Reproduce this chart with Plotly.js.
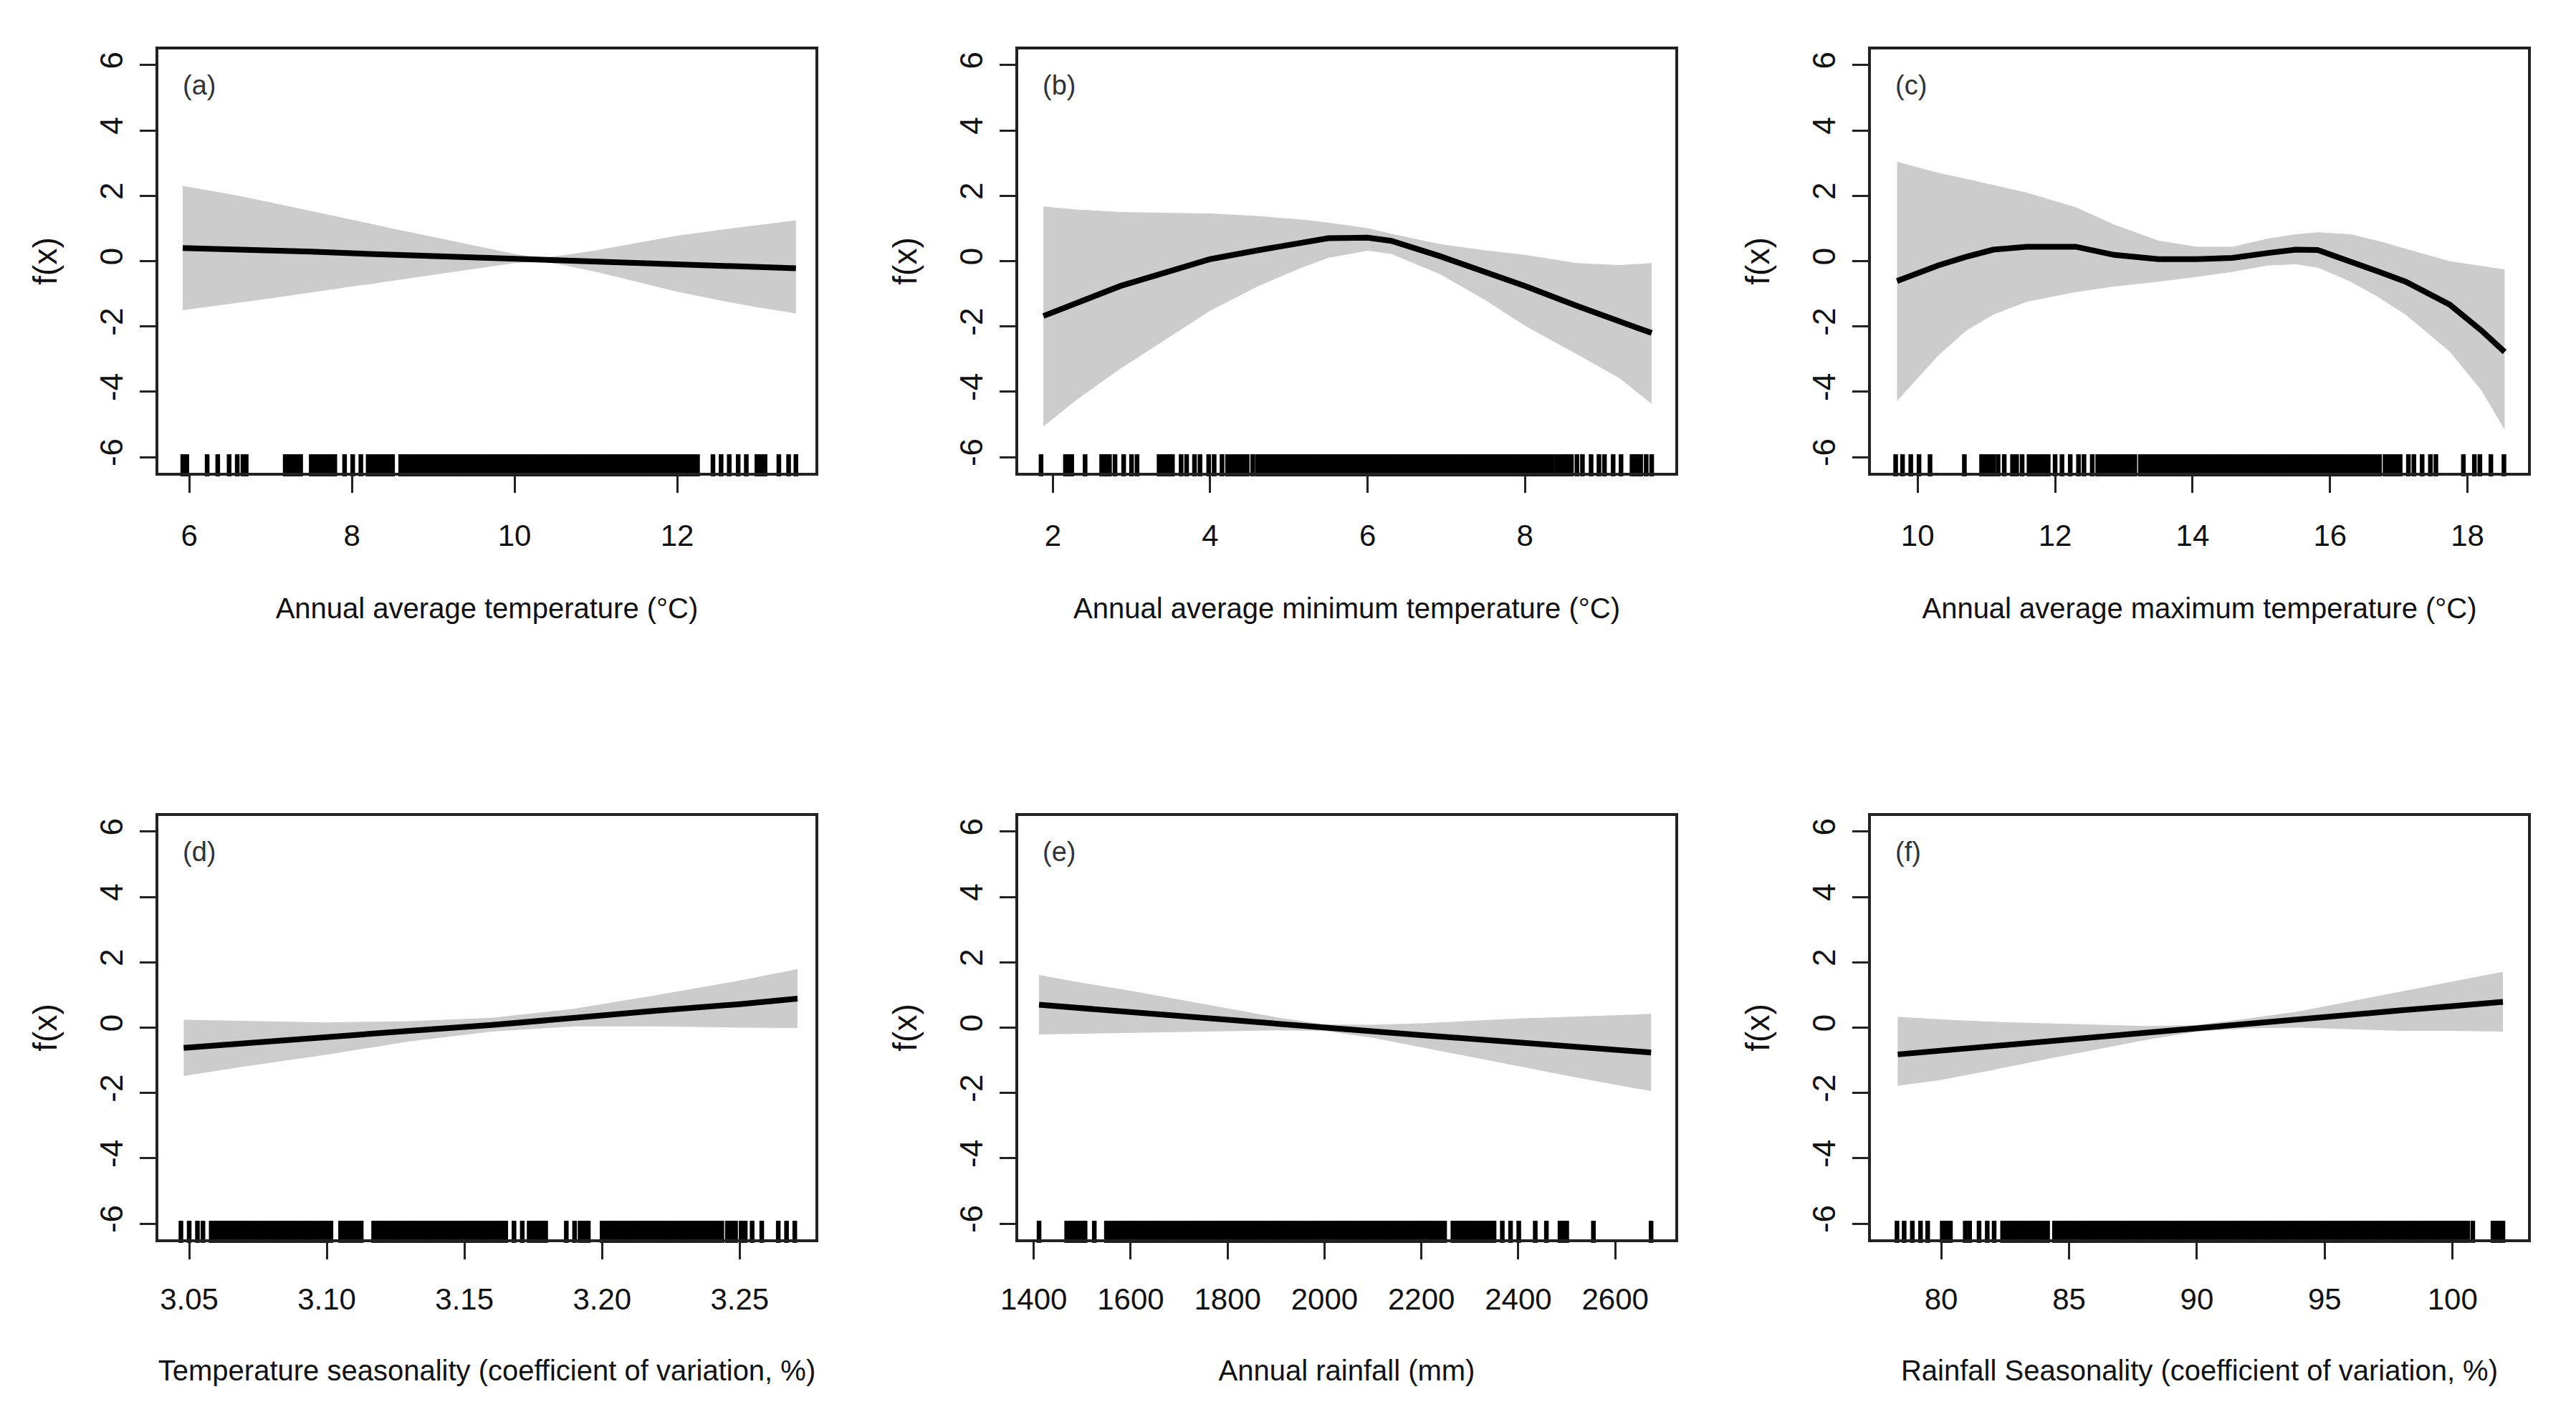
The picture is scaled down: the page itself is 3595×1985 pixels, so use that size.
<!DOCTYPE html>
<html>
<head>
<meta charset="utf-8">
<script src="https://cdn.plot.ly/plotly-3.0.1.min.js"></script>
<style>html,body{margin:0;padding:0;background:#fff;}#chart{width:3595px;height:1985px;}</style>
</head>
<body>
<div id="chart"></div>
<script>
// ---------------- DATA ----------------
const panelLabels = ["(a)", "(b)", "(c)", "(d)", "(e)", "(f)"];
const xTitles = [
  "Annual average temperature (°C)",
  "Annual average minimum temperature (°C)",
  "Annual average maximum temperature (°C)",
  "Temperature seasonality (coefficient of variation, %)",
  "Annual rainfall (mm)",
  "Rainfall Seasonality (coefficient of variation, %)"
];
const yTitle = "f(x)";
const yTickVals = [-6, -4, -2, 0, 2, 4, 6];
const yTickText = ["-6", "-4", "-2", "0", "2", "4", "6"];

// (a) annual average temperature
const aX   = [5.92, 6.5, 7, 7.5, 8, 8.5, 9, 9.5, 10, 10.3, 10.6, 11, 11.5, 12, 12.5, 13, 13.46];
const aFit = [0.40, 0.37, 0.33, 0.29, 0.24, 0.20, 0.16, 0.12, 0.08, 0.05, 0.03, 0.00, -0.04, -0.08, -0.12, -0.16, -0.22];
const aUp  = [2.30, 2.05, 1.80, 1.53, 1.27, 1.00, 0.74, 0.48, 0.22, 0.10, 0.18, 0.33, 0.55, 0.78, 0.95, 1.10, 1.25];
const aLo  = [-1.50, -1.31, -1.14, -0.96, -0.79, -0.60, -0.42, -0.24, -0.06, 0.00, -0.12, -0.33, -0.63, -0.94, -1.19, -1.42, -1.60];
const aRug = [5.92, 5.97, 6.22, 6.35, 6.49, 6.59, 6.66, 6.70, 7.18, 7.23, 7.28, 7.33, 7.37,
  7.50, 7.55, 7.60, 7.65, 7.70, 7.75, 7.79, 7.91, 8.01, 8.11,
  8.20, 8.25, 8.30, 8.35, 8.40, 8.45, 8.50,
  8.60, 8.65, 8.70, 8.75, 8.80, 8.85, 8.90, 8.95, 9.00, 9.05, 9.10, 9.15, 9.20, 9.25, 9.30, 9.35, 9.40, 9.45, 9.50, 9.55,
  9.60, 9.65, 9.70, 9.75, 9.80, 9.85, 9.90, 9.95, 10.00, 10.05, 10.10, 10.15, 10.20, 10.25, 10.30, 10.35, 10.40, 10.45,
  10.50, 10.55, 10.60, 10.65, 10.70, 10.75, 10.80, 10.85, 10.90, 10.95, 11.00, 11.05, 11.10, 11.15, 11.20, 11.25, 11.30,
  11.35, 11.40, 11.45, 11.50, 11.55, 11.60, 11.65, 11.70, 11.75, 11.80, 11.85, 11.90, 11.95, 12.00, 12.05, 12.10, 12.15,
  12.20, 12.25, 12.44, 12.54, 12.64, 12.75, 12.85, 12.98, 13.03, 13.08, 13.25, 13.37, 13.46];
const aTickVals = [6, 8, 10, 12];
const aTickText = ["6", "8", "10", "12"];

// (b) annual average minimum temperature
const bX   = [1.88, 2.3, 2.86, 3.5, 4.0, 4.6, 5.17, 5.5, 6.0, 6.3, 6.92, 7.5, 8.0, 8.66, 9.2, 9.61];
const bFit = [-1.68, -1.29, -0.76, -0.30, 0.06, 0.33, 0.58, 0.70, 0.72, 0.62, 0.15, -0.32, -0.76, -1.37, -1.84, -2.20];
const bUp  = [1.67, 1.58, 1.50, 1.48, 1.46, 1.38, 1.27, 1.18, 1.01, 0.84, 0.52, 0.33, 0.19, -0.06, -0.12, -0.06];
const bLo  = [-5.06, -4.25, -3.29, -2.30, -1.52, -0.78, -0.19, 0.10, 0.32, 0.22, -0.40, -1.20, -1.98, -2.85, -3.58, -4.37];
const bRug = [1.85, 2.16, 2.20, 2.24, 2.41, 2.62, 2.66, 2.69, 2.72, 2.79, 2.90, 3.00, 3.07,
  3.35, 3.40, 3.45, 3.49, 3.52, 3.63, 3.70, 3.80, 3.87, 3.98, 4.05, 4.15,
  4.22, 4.27, 4.32, 4.37, 4.42, 4.47, 4.54,
  4.60, 4.65, 4.70, 4.75, 4.80, 4.85, 4.90, 4.95, 5.00, 5.05, 5.10, 5.15, 5.20, 5.25, 5.30, 5.35, 5.40, 5.45, 5.50,
  5.55, 5.60, 5.65, 5.70, 5.75, 5.80, 5.85, 5.90, 5.95, 6.00, 6.05, 6.10, 6.15, 6.20, 6.25, 6.30, 6.35, 6.40, 6.45,
  6.50, 6.55, 6.60, 6.65, 6.70, 6.75, 6.80, 6.85, 6.90, 6.95, 7.00, 7.05, 7.10, 7.15, 7.20, 7.25, 7.30, 7.35, 7.40,
  7.45, 7.50, 7.55, 7.60, 7.65, 7.70, 7.75, 7.80, 7.85, 7.90, 7.95, 8.00, 8.05, 8.10, 8.15, 8.20, 8.25, 8.30, 8.35,
  8.41, 8.46, 8.51, 8.55, 8.59, 8.66, 8.73, 8.84, 8.94, 9.01, 9.12, 9.22, 9.36, 9.40, 9.44, 9.47, 9.54, 9.61];
const bTickVals = [2, 4, 6, 8];
const bTickText = ["2", "4", "6", "8"];

// (c) annual average maximum temperature
const cX   = [9.70, 10.3, 10.7, 11.1, 11.58, 12.3, 12.86, 13.5, 14.06, 14.58, 15.1, 15.5, 15.82, 16.3, 16.7, 17.1, 17.74, 18.2, 18.54];
const cFit = [-0.61, -0.13, 0.13, 0.35, 0.44, 0.44, 0.19, 0.06, 0.06, 0.10, 0.25, 0.35, 0.34, 0.00, -0.32, -0.63, -1.33, -2.12, -2.78];
const cUp  = [3.04, 2.70, 2.52, 2.33, 2.10, 1.65, 1.12, 0.63, 0.44, 0.44, 0.69, 0.82, 0.88, 0.82, 0.62, 0.38, 0.00, -0.15, -0.25];
const cLo  = [-4.28, -2.89, -2.14, -1.64, -1.25, -0.95, -0.78, -0.63, -0.48, -0.33, -0.13, -0.10, -0.20, -0.63, -1.10, -1.64, -2.77, -3.95, -5.16];
const cRug = [9.68, 9.78, 9.90, 10.02, 10.18, 10.68, 10.93, 10.99, 11.05, 11.10, 11.17, 11.26, 11.38, 11.44, 11.52,
  11.62, 11.68, 11.74, 11.80, 11.86, 11.90, 12.00, 12.10, 12.22, 12.34, 12.42, 12.54,
  12.62, 12.68, 12.74, 12.80, 12.86, 12.92, 12.98, 13.04, 13.10, 13.16,
  13.24, 13.30, 13.36, 13.42, 13.48, 13.54, 13.60, 13.66, 13.72, 13.78, 13.84, 13.90, 13.96, 14.02, 14.08, 14.14, 14.20,
  14.26, 14.32, 14.38, 14.44, 14.50, 14.56, 14.62, 14.68, 14.74, 14.80, 14.86, 14.92, 14.98, 15.04, 15.10, 15.16, 15.22,
  15.28, 15.34, 15.40, 15.46, 15.52, 15.58, 15.64, 15.70, 15.76, 15.82, 15.88, 15.94, 16.00, 16.06, 16.12, 16.18, 16.24,
  16.30, 16.36, 16.42, 16.48, 16.54, 16.60, 16.66, 16.72,
  16.80, 16.86, 16.92, 16.98, 17.02, 17.14, 17.22, 17.34, 17.46, 17.54, 17.94, 18.10, 18.18, 18.34, 18.53];
const cTickVals = [10, 12, 14, 16, 18];
const cTickText = ["10", "12", "14", "16", "18"];

// (d) temperature seasonality
const dX   = [3.048, 3.07, 3.10, 3.13, 3.16, 3.19, 3.22, 3.25, 3.271];
const dFit = [-0.62, -0.47, -0.28, -0.10, 0.08, 0.31, 0.52, 0.72, 0.89];
const dUp  = [0.24, 0.20, 0.16, 0.20, 0.30, 0.58, 1.00, 1.44, 1.79];
const dLo  = [-1.48, -1.19, -0.83, -0.42, -0.12, 0.04, 0.04, 0.00, -0.01];
const dRug = [3.047, 3.050, 3.053, 3.055,
  3.0580, 3.0595, 3.0610, 3.0625, 3.0640, 3.0655, 3.0670, 3.0685, 3.0700, 3.0715, 3.0730, 3.0745, 3.0760, 3.0775, 3.0790,
  3.0805, 3.0820, 3.0835, 3.0850, 3.0865, 3.0880, 3.0895, 3.0910, 3.0925, 3.0940, 3.0955, 3.0970, 3.0985, 3.1000, 3.1015,
  3.1050, 3.1065, 3.1080, 3.1095, 3.1110, 3.1125,
  3.1170, 3.1185, 3.1200, 3.1215, 3.1230, 3.1245, 3.1260, 3.1275, 3.1290, 3.1305, 3.1320, 3.1335, 3.1350, 3.1365, 3.1380,
  3.1395, 3.1410, 3.1425, 3.1440, 3.1455, 3.1470, 3.1485, 3.1500, 3.1515, 3.1530, 3.1545, 3.1560, 3.1575, 3.1590, 3.1605,
  3.1620, 3.1635, 3.1650, 3.1680, 3.1710, 3.1735, 3.1750, 3.1765, 3.1780, 3.1795, 3.1870, 3.1900, 3.1920, 3.1935, 3.1950,
  3.2000, 3.2015, 3.2030, 3.2045, 3.2060, 3.2075, 3.2090, 3.2105, 3.2120, 3.2135, 3.2150, 3.2165, 3.2180, 3.2195, 3.2210,
  3.2225, 3.2240, 3.2255, 3.2270, 3.2285, 3.2300, 3.2315, 3.2330, 3.2345, 3.2360, 3.2375, 3.2390, 3.2405, 3.2420, 3.2435,
  3.2455, 3.2470, 3.2485, 3.2505, 3.2520, 3.2545, 3.2580, 3.2640, 3.2670, 3.2700];
const dTickVals = [3.05, 3.10, 3.15, 3.20, 3.25];
const dTickText = ["3.05", "3.10", "3.15", "3.20", "3.25"];

// (e) annual rainfall
const eX   = [1411, 1500, 1600, 1700, 1800, 1900, 2000, 2100, 2200, 2300, 2400, 2500, 2600, 2674];
const eFit = [0.70, 0.59, 0.48, 0.36, 0.24, 0.12, 0.00, -0.11, -0.23, -0.34, -0.45, -0.57, -0.68, -0.76];
const eUp  = [1.61, 1.37, 1.13, 0.86, 0.59, 0.32, 0.10, 0.09, 0.13, 0.21, 0.28, 0.33, 0.39, 0.42];
const eLo  = [-0.21, -0.19, -0.17, -0.14, -0.11, -0.08, -0.10, -0.31, -0.59, -0.89, -1.18, -1.47, -1.75, -1.94];
const eRug = [1411, 1468, 1476, 1484, 1492, 1500, 1506, 1525, 1550, 1558, 1566, 1574, 1582, 1591,
  1600, 1608, 1616, 1624, 1632, 1640, 1648, 1656, 1664, 1672, 1680, 1688, 1696, 1704, 1712, 1720, 1728, 1736, 1744, 1752,
  1760, 1768, 1776, 1784, 1792, 1800, 1808, 1816, 1824, 1832, 1840, 1848, 1856, 1864, 1872, 1880, 1888, 1896, 1904, 1912,
  1920, 1928, 1936, 1944, 1952, 1960, 1968, 1976, 1984, 1992, 2000, 2008, 2016, 2024, 2032, 2040, 2048, 2056, 2064, 2072,
  2080, 2088, 2096, 2104, 2112, 2120, 2128, 2136, 2144, 2152, 2160, 2168, 2176, 2184, 2192, 2200, 2208, 2216, 2224, 2232,
  2240, 2248, 2265, 2273, 2281, 2289, 2297, 2305, 2313, 2321, 2329, 2337, 2345, 2350,
  2367, 2384, 2401, 2435, 2458, 2486, 2492, 2500, 2555, 2674];
const eTickVals = [1400, 1600, 1800, 2000, 2200, 2400, 2600];
const eTickText = ["1400", "1600", "1800", "2000", "2200", "2400", "2600"];

// (f) rainfall seasonality
const fX   = [78.3, 80, 82, 84, 86, 88, 90, 92, 94, 96, 98, 100, 101.97];
const fFit = [-0.82, -0.70, -0.56, -0.42, -0.28, -0.15, -0.01, 0.13, 0.26, 0.40, 0.53, 0.66, 0.79];
const fUp  = [0.33, 0.25, 0.18, 0.14, 0.10, 0.05, 0.08, 0.28, 0.50, 0.80, 1.10, 1.40, 1.71];
const fLo  = [-1.78, -1.60, -1.30, -0.98, -0.68, -0.38, -0.12, -0.02, 0.00, -0.05, -0.10, -0.10, -0.12];
const fRug = [78.27, 78.55, 78.87, 79.19, 79.47, 80.04, 80.20, 80.36, 80.94, 81.11, 81.48, 81.80, 82.07,
  82.40, 82.56, 82.72, 82.88, 83.04, 83.20, 83.36, 83.52, 83.68, 83.84, 84.00, 84.16,
  84.43, 84.59, 84.75, 84.91, 85.07, 85.23, 85.39, 85.55, 85.71, 85.87, 86.03, 86.19, 86.35, 86.51, 86.67, 86.83, 86.99,
  87.15, 87.31, 87.47, 87.63, 87.79, 87.95, 88.11, 88.27, 88.43, 88.59, 88.75, 88.91, 89.07, 89.23, 89.39, 89.55, 89.71,
  89.87, 90.03, 90.19, 90.35, 90.51, 90.67, 90.83, 90.99, 91.15, 91.31, 91.47, 91.63, 91.79, 91.95, 92.11, 92.27, 92.43,
  92.59, 92.75, 92.91, 93.07, 93.23, 93.39, 93.55, 93.71, 93.87, 94.03, 94.19, 94.35, 94.51, 94.67, 94.83, 94.99, 95.15,
  95.31, 95.47, 95.63, 95.79, 95.95, 96.11, 96.27, 96.43, 96.59, 96.75, 96.91, 97.07, 97.23, 97.39, 97.55, 97.71, 97.87,
  98.03, 98.19, 98.35, 98.51, 98.67, 98.83, 98.99, 99.15, 99.31, 99.47, 99.63, 99.79, 99.95, 100.11, 100.27, 100.43, 100.59,
  100.79, 101.58, 101.70, 101.86, 101.97];
const fTickVals = [80, 85, 90, 95, 100];
const fTickText = ["80", "85", "90", "95", "100"];

// ---------------- STYLE / LAYOUT ----------------
const FONT_X = '"Liberation Sans Narrow", "Arial Narrow", "Liberation Sans", Arial, sans-serif';
const FONT_REG = '"Liberation Sans", Arial, sans-serif';
const W = 3595, H = 1985;
const colPx = [[221, 1138], [1421, 2338], [2611, 3528]];
const rowPx = [[69, 660], [1139, 1730]];
const Y_RANGE = [-6.48, 6.48];
const RUG_Y = -6.25;

const panels = [
  {x: aX, fit: aFit, up: aUp, lo: aLo, rug: aRug, tv: aTickVals, tt: aTickText, range: [5.62, 13.70]},
  {x: bX, fit: bFit, up: bUp, lo: bLo, rug: bRug, tv: bTickVals, tt: bTickText, range: [1.56, 9.91]},
  {x: cX, fit: cFit, up: cUp, lo: cLo, rug: cRug, tv: cTickVals, tt: cTickText, range: [9.32, 18.88]},
  {x: dX, fit: dFit, up: dUp, lo: dLo, rug: dRug, tv: dTickVals, tt: dTickText, range: [3.0388, 3.2775]},
  {x: eX, fit: eFit, up: eUp, lo: eLo, rug: eRug, tv: eTickVals, tt: eTickText, range: [1368, 2724]},
  {x: fX, fit: fFit, up: fUp, lo: fLo, rug: fRug, tv: fTickVals, tt: fTickText, range: [77.25, 102.95]}
];

const traces = [];
const layout = {
  width: W, height: H,
  margin: {l: 0, r: 0, t: 0, b: 0},
  paper_bgcolor: '#ffffff', plot_bgcolor: '#ffffff',
  showlegend: false,
  annotations: []
};

panels.forEach((p, i) => {
  const n = i + 1;
  const xa = 'x' + (n === 1 ? '' : n), ya = 'y' + (n === 1 ? '' : n);
  const col = colPx[i % 3], row = rowPx[Math.floor(i / 3)];
  const bottomRow = i >= 3;
  // confidence band
  traces.push({
    type: 'scatter', mode: 'lines', xaxis: xa, yaxis: ya,
    x: p.x.concat(p.x.slice().reverse()),
    y: p.up.concat(p.lo.slice().reverse()),
    fill: 'toself', fillcolor: '#cccccc', line: {width: 0, color: '#cccccc'},
    hoverinfo: 'skip'
  });
  // fitted smooth
  traces.push({
    type: 'scatter', mode: 'lines', xaxis: xa, yaxis: ya,
    x: p.x, y: p.fit, line: {color: '#000000', width: 8}
  });
  // rug
  traces.push({
    type: 'scatter', mode: 'markers', xaxis: xa, yaxis: ya,
    x: p.rug, y: p.rug.map(() => RUG_Y),
    marker: {symbol: 'line-ns-open', size: 22, color: '#000000', line: {color: '#000000', width: 6.5}},
    cliponaxis: false
  });
  const xkey = 'xaxis' + (n === 1 ? '' : n), ykey = 'yaxis' + (n === 1 ? '' : n);
  layout[xkey] = {
    domain: [col[0] / W, col[1] / W], anchor: ya, range: p.range,
    showline: true, mirror: true, linecolor: '#222222', linewidth: 4,
    showgrid: false, zeroline: false,
    ticks: 'outside', ticklen: 24, tickwidth: 3, tickcolor: '#222222',
    tickmode: 'array', tickvals: p.tv, ticktext: p.tt,
    tickfont: {family: FONT_X, size: 42, color: '#111111'},
    ticklabelstandoff: bottomRow ? 20 : 24,
    title: {text: xTitles[i], font: {family: FONT_X, size: 40, color: '#111111'}, standoff: bottomRow ? 64 : 66},
    automargin: false, fixedrange: true
  };
  layout[ykey] = {
    domain: [1 - row[1] / H, 1 - row[0] / H], anchor: xa, range: Y_RANGE,
    showline: true, mirror: true, linecolor: '#222222', linewidth: 4,
    showgrid: false, zeroline: false,
    ticks: 'outside', ticklen: 22, tickwidth: 3, tickcolor: '#222222',
    tickmode: 'array', tickvals: yTickVals, ticktext: yTickText, tickangle: -90,
    tickfont: {family: FONT_REG, size: 44, color: '#111111'},
    ticklabelstandoff: 6,
    title: {text: yTitle, font: {family: FONT_REG, size: 46, color: '#111111'}, standoff: 38},
    automargin: false, fixedrange: true
  };
  layout.annotations.push({
    xref: xa + ' domain', yref: ya + ' domain', x: 0.035, y: 0.915,
    xanchor: 'left', yanchor: 'middle', showarrow: false,
    text: panelLabels[i], font: {family: FONT_X, size: 38, color: '#333333'}
  });
});

Plotly.newPlot('chart', traces, layout, {staticPlot: true, displayModeBar: false});
</script>
</body>
</html>
